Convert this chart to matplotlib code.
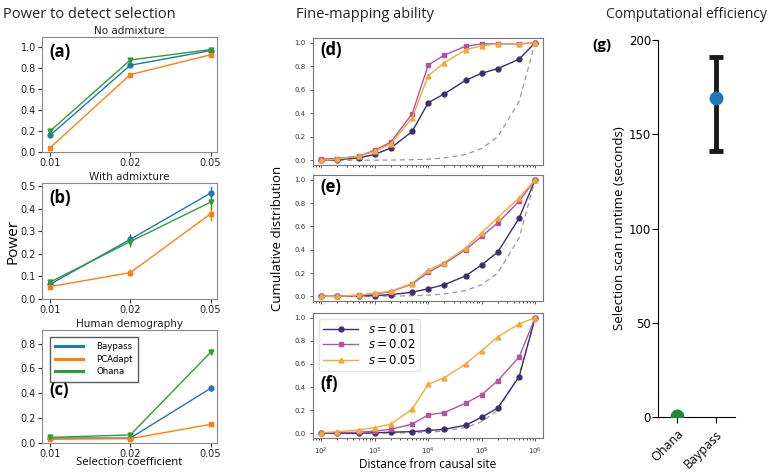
import matplotlib
matplotlib.use("Agg")
import matplotlib.pyplot as plt
from matplotlib.lines import Line2D

# ---------------- data ----------------
sel_coef = ["0.01", "0.02", "0.05"]
methods = ["Baypass", "PCAdapt", "Ohana"]

a_baypass = [0.16, 0.83, 0.97]
a_pcadapt = [0.04, 0.74, 0.93]
a_ohana = [0.20, 0.88, 0.98]
a_err = [0.01, 0.01, 0.01]

b_baypass = [0.065, 0.265, 0.47]
b_pcadapt = [0.055, 0.117, 0.378]
b_ohana = [0.075, 0.255, 0.43]
b_err_baypass = [0.012, 0.025, 0.03]
b_err_pcadapt = [0.01, 0.015, 0.03]
b_err_ohana = [0.012, 0.025, 0.03]

c_baypass = [0.04, 0.04, 0.44]
c_pcadapt = [0.03, 0.035, 0.15]
c_ohana = [0.045, 0.065, 0.73]
c_err_baypass = [0.005, 0.005, 0.025]
c_err_pcadapt = [0.004, 0.004, 0.012]
c_err_ohana = [0.005, 0.006, 0.025]

distance = [1e2, 2e2, 5e2, 1e3, 2e3, 5e3, 1e4, 2e4, 5e4, 1e5, 2e5, 5e5, 1e6]
null_cdf = [0.0001, 0.0002, 0.0005, 0.001, 0.002, 0.005, 0.01, 0.02, 0.05, 0.1, 0.2, 0.5, 1.0]

d_s01 = [0.0, 0.005, 0.02, 0.05, 0.105, 0.245, 0.49, 0.565, 0.68, 0.74, 0.78, 0.86, 1.0]
d_s02 = [0.01, 0.015, 0.035, 0.085, 0.155, 0.395, 0.81, 0.895, 0.97, 0.99, 0.99, 0.99, 1.0]
d_s05 = [0.0, 0.01, 0.035, 0.075, 0.14, 0.36, 0.72, 0.83, 0.94, 0.975, 0.99, 0.99, 1.0]

e_s01 = [0.0, 0.0, 0.005, 0.005, 0.015, 0.035, 0.065, 0.10, 0.175, 0.27, 0.38, 0.67, 1.0]
e_s02 = [0.0, 0.0, 0.01, 0.02, 0.04, 0.105, 0.205, 0.28, 0.40, 0.515, 0.63, 0.815, 1.0]
e_s05 = [0.0, 0.0, 0.01, 0.025, 0.045, 0.11, 0.225, 0.29, 0.415, 0.545, 0.675, 0.845, 1.0]

f_s01 = [0.0, 0.0, 0.0, 0.005, 0.01, 0.015, 0.025, 0.035, 0.07, 0.14, 0.22, 0.49, 1.0]
f_s02 = [0.005, 0.005, 0.01, 0.02, 0.035, 0.08, 0.16, 0.18, 0.26, 0.335, 0.455, 0.66, 1.0]
f_s05 = [0.005, 0.015, 0.03, 0.05, 0.08, 0.21, 0.425, 0.48, 0.60, 0.715, 0.835, 0.945, 1.0]

s_labels = ["$s = 0.01$", "$s = 0.02$", "$s = 0.05$"]

runtime_methods = ["Ohana", "Baypass"]
runtime_mean = [0.5, 169.0]
runtime_low = [0.3, 141.0]
runtime_high = [0.7, 191.0]

# ---------------- style ----------------
HUM = ["Open Sans", "DejaVu Sans"]
C_B, C_P, C_O = "#1f77b4", "#ff7f0e", "#2ca02c"
C_S = ["#3e2c74", "#b552a6", "#f5a935"]
MK_S = ["o", "s", "^"]

W, H = 774, 472
fig = plt.figure(figsize=(W / 100, H / 100), dpi=100)


def ax_px(x0, y0, x1, y1):
    return fig.add_axes([x0 / W, 1 - y1 / H, (x1 - x0) / W, (y1 - y0) / H])


# ---------- left column ----------
left_specs = [
    ((42, 37, 217, 152), "No admixture", "(a)", (0, 1.1),
     [(a_baypass, a_err), (a_pcadapt, a_err), (a_ohana, a_err)], [0, 0.2, 0.4, 0.6, 0.8, 1.0]),
    ((42, 183, 217, 299), "With admixture", "(b)", (0, 0.515),
     [(b_baypass, b_err_baypass), (b_pcadapt, b_err_pcadapt), (b_ohana, b_err_ohana)],
     [0, 0.1, 0.2, 0.3, 0.4, 0.5]),
    ((42, 330, 217, 443), "Human demography", "(c)", (0, 0.91),
     [(c_baypass, c_err_baypass), (c_pcadapt, c_err_pcadapt), (c_ohana, c_err_ohana)],
     [0, 0.2, 0.4, 0.6, 0.8]),
]
xs = list(range(len(sel_coef)))
for i, (box, title, tag, ylim, series, yt) in enumerate(left_specs):
    ax = ax_px(*box)
    for (vals, err), col, mk in zip(series, [C_B, C_P, C_O], ["o", "s", "v"]):
        ax.errorbar(xs, vals, yerr=err, color=col, marker=mk, markersize=3.5,
                    lw=1.0, elinewidth=1.0, capsize=0)
    ax.set_xlim(-0.1, 2.08)
    ax.set_ylim(*ylim)
    ax.set_yticks(yt)
    ax.set_xticks(xs)
    ax.set_xticklabels(sel_coef)
    ax.tick_params(labelsize=7, length=3, width=0.8, pad=1.5, colors="#333333",
                   labelcolor="#222222")
    ax.tick_params(axis="x", pad=1)
    for sp in ax.spines.values():
        sp.set_color("#888888")
    ax.set_title(title, fontsize=7.5, pad=2, color="#222222")
    if i < 2:
        ax.text(0.04, 0.95, tag, transform=ax.transAxes, fontsize=12, fontweight="bold",
                family=HUM, va="top", ha="left")
    else:
        ax.text(0.04, 0.55, tag, transform=ax.transAxes, fontsize=12, fontweight="bold",
                family=HUM, va="top", ha="left")
        handles = [Line2D([0], [0], color=c, lw=2.2) for c in [C_B, C_P, C_O]]
        ax.legend(handles, methods, loc="upper left", fontsize=6.2, frameon=True,
                  fancybox=False, edgecolor="#333333", bbox_to_anchor=(0.02, 0.98),
                  handlelength=3.3, borderpad=0.6, labelspacing=0.45, handletextpad=1.5)
    if i == 1:
        ax.set_ylabel("Power", fontsize=11, family=HUM)
        ax.yaxis.set_label_coords(-0.125, 0.5)
    if i == 2:
        ax.set_xlabel("Selection coefficient", fontsize=8.2, family=HUM)
        ax.xaxis.set_label_coords(0.5, -0.125)

fig.text(3 / W, 1 - 15 / H, "Power to detect selection", fontsize=10.5, family=HUM,
         va="center", ha="left", color="#222222")

# ---------- middle column ----------
mid_specs = [
    ((313, 38, 543, 165), "(d)", [d_s01, d_s02, d_s05]),
    ((313, 175, 543, 301), "(e)", [e_s01, e_s02, e_s05]),
    ((313, 313, 543, 438), "(f)", [f_s01, f_s02, f_s05]),
]
for i, (box, tag, series) in enumerate(mid_specs):
    ax = ax_px(*box)
    ax.plot(distance, null_cdf, ls="--", color="#999999", lw=0.9, dashes=(4, 3))
    for vals, col, mk, lab in zip(series, C_S, MK_S, s_labels):
        ax.plot(distance, vals, color=col, marker=mk, markersize=3.5, lw=1.0, label=lab)
    ax.set_xscale("log")
    ax.set_xlim(70, 1.4e6)
    ax.set_ylim(-0.04, 1.04)
    ax.set_yticks([0, 0.2, 0.4, 0.6, 0.8, 1.0])
    ax.tick_params(labelsize=5, length=2, width=0.6, colors="#444444", labelcolor="#333333")
    ax.tick_params(which="minor", length=1.2, width=0.5)
    for sp in ax.spines.values():
        sp.set_color("#777777")
    if i < 2:
        ax.set_xticklabels([])
        ax.text(0.03, 0.98, tag, transform=ax.transAxes, fontsize=12, fontweight="bold",
                family=HUM, va="top", ha="left")
    else:
        ax.set_xticks([1e2, 1e3, 1e4, 1e5, 1e6])
        ax.text(0.03, 0.5, tag, transform=ax.transAxes, fontsize=12, fontweight="bold",
                family=HUM, va="top", ha="left")
        ax.legend(loc="upper left", fontsize=8.5, frameon=True, edgecolor="#dddddd",
                  handlelength=3, borderpad=0.35, labelspacing=0.2)
        ax.set_xlabel("Distance from causal site", fontsize=8.5, family=HUM, labelpad=1)
    if i == 1:
        ax.set_ylabel("Cumulative distribution", fontsize=9.5, family=HUM)
        ax.yaxis.set_label_coords(-0.128, 0.5)

fig.text(296 / W, 1 - 15 / H, "Fine-mapping ability", fontsize=10.5, family=HUM,
         va="center", ha="left", color="#222222")

# ---------- right panel ----------
ax = ax_px(658, 40, 735, 417)
xr = list(range(len(runtime_methods)))
for x, m, lo, hi, col in zip(xr, runtime_mean, runtime_low, runtime_high, ["#1f8a3e", C_B]):
    if hi - lo > 5:
        ax.errorbar([x], [m], yerr=[[m - lo], [hi - m]], color="#1a1a1a", lw=0,
                    elinewidth=3.5, capsize=5, capthick=3.5, zorder=1)
    ax.plot([x], [m], marker="o", markersize=9, color=col, zorder=3)
ax.set_xlim(-0.5, 1.5)
ax.set_ylim(0, 200)
ax.set_yticks([0, 50, 100, 150, 200])
ax.set_xticks(xr)
ax.set_xticklabels(runtime_methods, rotation=45, ha="right", rotation_mode="anchor",
                   family=HUM, fontsize=9)
ax.tick_params(axis="y", labelsize=8.5, length=4, pad=1)
ax.tick_params(axis="x", length=4)
ax.spines["top"].set_visible(False)
ax.spines["right"].set_visible(False)
ax.set_ylabel("Selection scan runtime (seconds)", fontsize=9.5, family=HUM)
ax.yaxis.set_label_coords(-0.41, 0.5)
fig.text(602 / W, 1 - 45 / H, "(g)", fontsize=11, fontweight="bold", family=HUM,
         va="center", ha="center")
fig.text(606 / W, 1 - 15 / H, "Computational efficiency", fontsize=10, family=HUM,
         va="center", ha="left", color="#222222")

fig.savefig("out.png", dpi=100)
